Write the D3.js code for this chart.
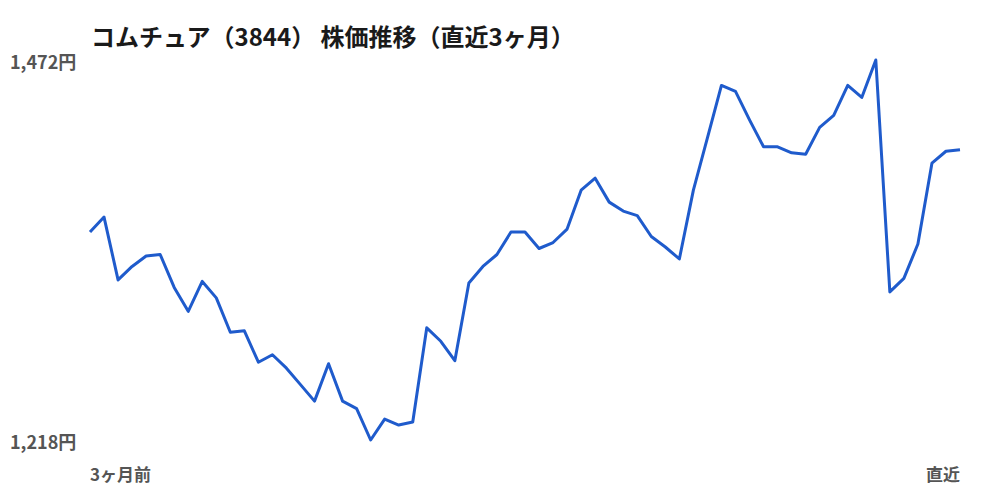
<!DOCTYPE html>
<meta charset="utf-8">
<style>
body{margin:0;background:#fff;}
text{font-family:"Noto Sans CJK JP","Noto Sans",sans-serif;}
</style>
<body>
<svg id="svg"></svg>
</body>
<script src="https://cdnjs.cloudflare.com/ajax/libs/d3/7.8.5/d3.min.js"></script>
<script>
// 終値（直近3ヶ月）
var prices = [1357,1367,1325,1334,1341,1342,1320,1304,1324,1313,
  1290,1291,1270,1275,1266,1255,1244,1269,1244,1239,
  1218,1232,1228,1230,1293,1284,1271,1323,1334,1342,
  1357,1357,1346,1350,1359,1385,1393,1377,1371,1368,
  1354,1347,1339,1385,1420,1455,1451,1432,1414,1414,
  1410,1409,1427,1435,1455,1447,1472,1317,1326,1349,
  1403,1411,1412]
var yTicks = [1472, 1218]
var xLabels = ['3ヶ月前', '直近']
var title = 'コムチュア（3844） 株価推移（直近3ヶ月）'

var width = 1000, height = 500
var margin = {top: 60, right: 40, bottom: 60, left: 90}

var svg = d3.select('#svg')
  .attr('width', width)
  .attr('height', height)

var x = d3.scaleLinear()
  .domain([0, prices.length - 1])
  .range([margin.left, width - margin.right])
var y = d3.scaleLinear()
  .domain([d3.min(prices), d3.max(prices)])
  .range([height - margin.bottom, margin.top])

svg.append('text')
  .attr('x', 91)
  .attr('y', 35)
  .attr('dominant-baseline', 'central')
  .style('font-size', '24px')
  .style('font-weight', 'bold')
  .style('fill', '#1a1a1a')
  .text(title)

svg.selectAll('.ylab')
  .data(yTicks)
  .enter().append('text')
  .attr('class', 'ylab')
  .attr('x', 10)
  .attr('y', function(d) { return y(d) + 1 })
  .attr('dominant-baseline', 'central')
  .style('font-size', '18px')
  .style('font-weight', 'bold')
  .style('fill', '#555')
  .text(function(d) { return d3.format(',')(d) + '円' })

svg.selectAll('.xlab')
  .data(xLabels)
  .enter().append('text')
  .attr('class', 'xlab')
  .attr('x', function(d, i) { return i == 0 ? x(0) : x(prices.length - 1) })
  .attr('y', 473)
  .attr('dominant-baseline', 'central')
  .attr('text-anchor', function(d, i) { return i == 0 ? 'start' : 'end' })
  .style('font-size', '17px')
  .style('font-weight', 'bold')
  .style('fill', '#555')
  .text(function(d) { return d })

var line = d3.line()
  .x(function(d, i) { return x(i) })
  .y(function(d) { return y(d) })

svg.append('path')
  .datum(prices)
  .attr('d', line)
  .attr('fill', 'none')
  .attr('stroke', '#1f5bcc')
  .attr('stroke-width', 3)
  .attr('stroke-linejoin', 'round')
</script>
